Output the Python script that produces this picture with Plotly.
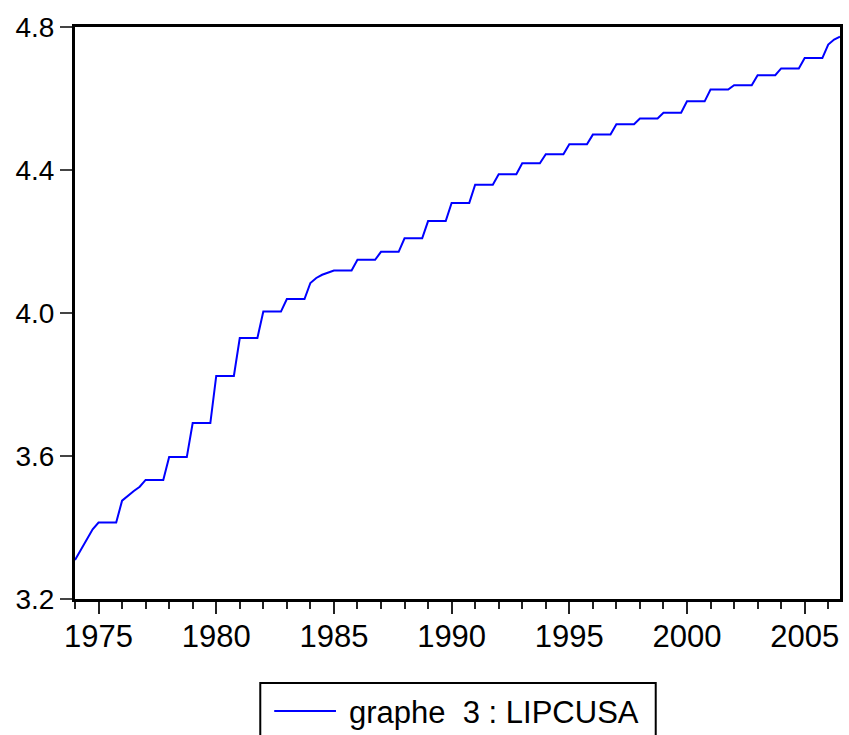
import plotly.graph_objects as go

# Log consumer price index, USA (quarterly, 1974Q1 - 2006Q3)
years = list(range(1974, 2007))
q1 = [3.309, 3.414, 3.475, 3.533, 3.597, 3.692, 3.824, 3.930, 4.004, 4.039, 4.084,
      4.119, 4.149, 4.171, 4.209, 4.257, 4.308, 4.359, 4.388, 4.419, 4.444, 4.472,
      4.499, 4.528, 4.544, 4.560, 4.592, 4.625, 4.637, 4.665, 4.684, 4.713, 4.751]
q2 = [3.338, 3.414, 3.489, 3.533, 3.597, 3.692, 3.824, 3.930, 4.004, 4.039, 4.098,
      4.119, 4.149, 4.171, 4.209, 4.257, 4.308, 4.359, 4.388, 4.419, 4.444, 4.472,
      4.499, 4.528, 4.544, 4.560, 4.592, 4.625, 4.637, 4.665, 4.684, 4.713, 4.765]
q3 = [3.367, 3.414, 3.502, 3.533, 3.597, 3.692, 3.824, 3.930, 4.004, 4.039, 4.107,
      4.119, 4.149, 4.171, 4.209, 4.257, 4.308, 4.359, 4.388, 4.419, 4.444, 4.472,
      4.499, 4.528, 4.544, 4.560, 4.592, 4.625, 4.637, 4.665, 4.684, 4.713, 4.773]
q4 = [3.395, 3.414, 3.514, 3.533, 3.597, 3.692, 3.824, 3.930, 4.004, 4.039, 4.114,
      4.119, 4.149, 4.171, 4.209, 4.257, 4.308, 4.359, 4.388, 4.419, 4.444, 4.472,
      4.499, 4.528, 4.544, 4.560, 4.592, 4.625, 4.637, 4.665, 4.684, 4.713, None]

series_name = "graphe\u00a0\u00a03 : LIPCUSA"

# Lay the quarters out on a decimal-year time axis
x, y = [], []
for yr, a, b, c, d in zip(years, q1, q2, q3, q4):
    for k, v in enumerate((a, b, c, d)):
        if v is not None:
            x.append(yr + k / 4)
            y.append(v)

FONT = "Arial, Liberation Sans, sans-serif"
W, H = 849, 735
ML, MR, MT, MB = 75, 6, 27, 136
PW, PH = W - ML - MR, H - MT - MB

fig = go.Figure()
fig.add_trace(go.Scatter(x=x, y=y, mode="lines", name=series_name,
                         line=dict(color="#0000FF", width=2), showlegend=False))

def px_x(p):
    return (p - ML) / PW

def px_y(p):
    return 1 - (p - MT) / PH

# Legend box drawn below the plot
box = dict(x0=px_x(261), x1=px_x(658), y0=px_y(683), y1=px_y(745))
fig.add_shape(type="rect", xref="paper", yref="paper", **box,
              line=dict(color="black", width=2), fillcolor="white", layer="above")
fig.add_shape(type="line", xref="paper", yref="paper",
              x0=px_x(275), x1=px_x(337), y0=px_y(711), y1=px_y(711),
              line=dict(color="#0000FF", width=2))
fig.add_annotation(xref="paper", yref="paper", x=px_x(348), y=px_y(712),
                   xanchor="left", yanchor="middle", showarrow=False,
                   text=series_name, font=dict(family=FONT, size=31, color="black"))

fig.update_layout(
    width=W, height=H,
    margin=dict(l=ML, r=MR, t=MT, b=MB, pad=0),
    paper_bgcolor="white", plot_bgcolor="white",
    font=dict(family=FONT, color="black"),
)
fig.update_xaxes(
    range=[1974, 2006.5], tick0=1975, dtick=5,
    ticks="outside", ticklen=12, tickwidth=2, tickcolor="#222",
    minor=dict(tick0=1974, dtick=1, ticks="outside", ticklen=7, tickwidth=2, tickcolor="#222"),
    showline=True, linecolor="black", linewidth=3, mirror=True,
    showgrid=False, zeroline=False, ticklabelstandoff=-4,
    tickfont=dict(family=FONT, size=31, color="black"),
)
fig.update_yaxes(
    range=[3.2, 4.8], tick0=3.2, dtick=0.4, tickformat=".1f",
    ticks="outside", ticklen=12, tickwidth=2, tickcolor="#444",
    showline=True, linecolor="black", linewidth=3, mirror=True,
    showgrid=False, zeroline=False,
    tickfont=dict(family=FONT, size=28, color="black"),
)

fig.write_html("out.html")
